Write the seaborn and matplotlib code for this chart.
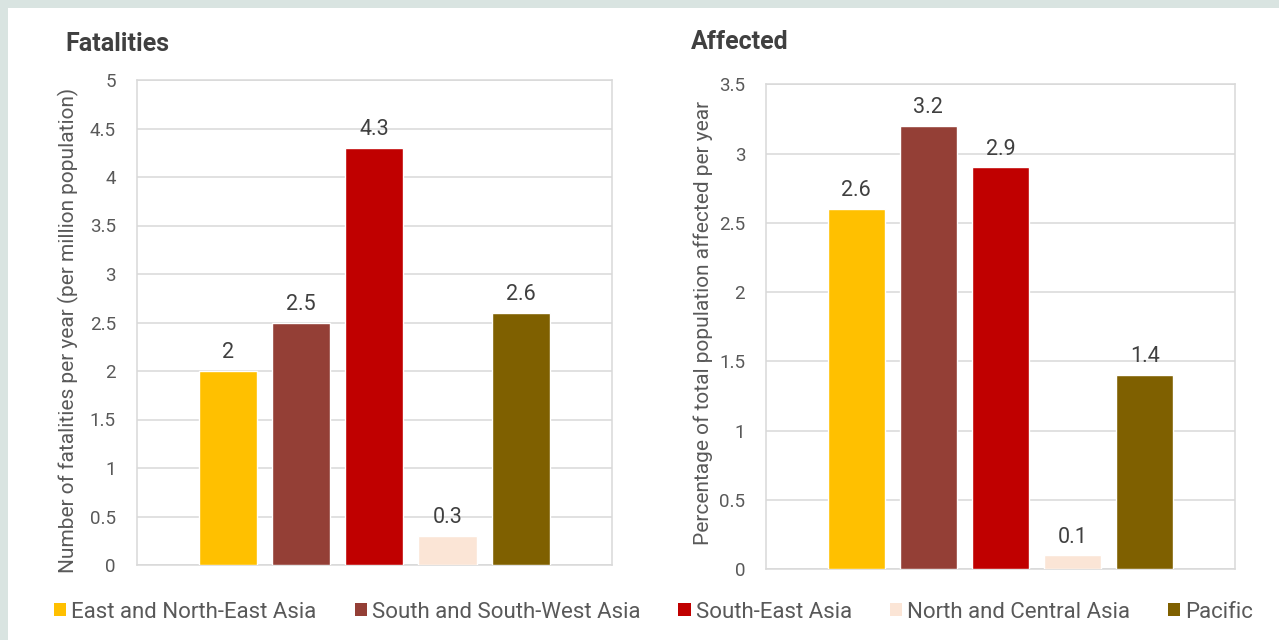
import matplotlib
matplotlib.use("Agg")
import matplotlib.pyplot as plt
from matplotlib.patches import Rectangle
import seaborn as sns
import pandas as pd

# Sub-regions and their colours
regions = ["East and North-East Asia", "South and South-West Asia",
           "South-East Asia", "North and Central Asia", "Pacific"]
colors = ["#FFC000", "#943F36", "#C00000", "#FBE5D6", "#7F6000"]

# Average annual disaster impact by sub-region
fatalities = [2, 2.5, 4.3, 0.3, 2.6]          # per million population
affected = [2.6, 3.2, 2.9, 0.1, 1.4]          # % of total population

fatal_ticks = [0, 0.5, 1, 1.5, 2, 2.5, 3, 3.5, 4, 4.5, 5]
affect_ticks = [0, 0.5, 1, 1.5, 2, 2.5, 3, 3.5]

sns.set_theme(style="white")
plt.rcParams["font.family"] = ["Roboto", "DejaVu Sans"]

GRID = "#d9d9d9"
TICK = "#595959"
DARK = "#404040"

fig = plt.figure(figsize=(12.79, 6.40), dpi=100)
fig.patch.set_facecolor("#d9e4e1")
fig.patches.append(Rectangle((8 / 1279, 0), 1, 1 - 8 / 640,
                             transform=fig.transFigure, facecolor="white",
                             edgecolor="none", zorder=-10))

ax1 = fig.add_axes([136.7 / 1279, 1 - 565 / 640, 475.3 / 1279, 485 / 640])
ax2 = fig.add_axes([766 / 1279, 1 - 569 / 640, 469 / 1279, 484.7 / 640])


def draw_panel(ax, values, ticks, ylabel, label_x, label_y):
    df = pd.DataFrame({"region": regions, "value": values})
    sns.barplot(data=df, x="region", y="value", hue="region", order=regions,
                hue_order=regions, palette=colors, saturation=1, width=0.795,
                legend=False, ax=ax, zorder=3)
    ax.set_xlim(-1.25, 5.25)
    ax.set_ylim(ticks[0], ticks[-1])
    ax.set_yticks(ticks)
    ax.set_yticklabels([f"{t:g}" for t in ticks])
    ax.set_xticks([])
    ax.set_xlabel("")
    ax.set_ylabel(ylabel, color=TICK, fontsize=15, va="center")
    ax.yaxis.set_label_coords(label_x, label_y)
    ax.tick_params(axis="y", length=0, pad=15, labelsize=13.5, labelcolor=TICK)
    ax.grid(axis="y", color=GRID, linewidth=1.1, zorder=0)
    for s in ax.spines.values():
        s.set_visible(True)
        s.set_color(GRID)
        s.set_linewidth(1.1)
    for cont in ax.containers:
        ax.bar_label(cont, fmt="%g", padding=5.5, fontsize=15.5, color=DARK)
    ax.set_facecolor("white")
    return ax


draw_panel(ax1, fatalities, fatal_ticks,
           "Number of fatalities per year (per million population)",
           (68 - 136.7) / 475.3, (565 - 330) / 485)
draw_panel(ax2, affected, affect_ticks,
           "Percentage of total population affected per year",
           (703 - 766) / 469, (569 - 323) / 484.7)

fig.text(65 / 1279, 1 - 44 / 640, "Fatalities", fontsize=18, fontweight="bold",
         color=DARK, va="center", ha="left")
fig.text(691 / 1279, 1 - 42 / 640, "Affected", fontsize=18, fontweight="bold",
         color=DARK, va="center", ha="left")

handles = [Rectangle((0, 0), 1, 1, facecolor=c, edgecolor="none") for c in colors]
fig.legend(handles, regions, loc="center left", bbox_to_anchor=(54 / 1279, 1 - 612 / 640),
           ncol=5, frameon=False, fontsize=16, labelcolor=TICK,
           handlelength=0.55, handleheight=0.55, handletextpad=0.22,
           columnspacing=1.72, borderaxespad=0, borderpad=0)

fig.savefig("out.png", dpi=100, facecolor=fig.get_facecolor())
